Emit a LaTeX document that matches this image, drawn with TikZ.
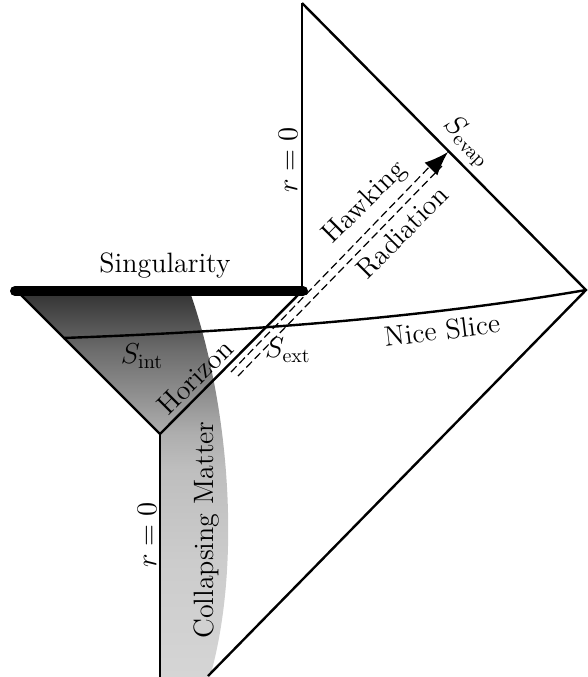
\documentclass[tikz,border=0pt]{standalone}
\usetikzlibrary{arrows.meta}
\definecolor{ctop}{HTML}{333333}
\definecolor{cupper}{HTML}{6C6C6C}
\definecolor{cmid}{HTML}{AEAEAE}
\definecolor{clow}{HTML}{BEBEBE}
\definecolor{clower}{HTML}{CCCCCC}
\definecolor{cbot}{HTML}{D5D5D5}
\pgfdeclareverticalshading{mattershade}{100bp}{color(0bp)=(cbot); color(25bp)=(cbot); color(40bp)=(clower); color(52bp)=(clow); color(56.6bp)=(cmid); color(67.5bp)=(cupper); color(75bp)=(ctop); color(100bp)=(ctop)}
\begin{document}
\begin{tikzpicture}[x=0.5pt,y=-0.5pt,
  lbl/.style={font=\fontsize{14}{16}\selectfont, inner sep=0pt},
  edge/.style={line width=1.2pt},
  dsh/.style={line width=0.6pt, dash pattern=on 4pt off 2pt}]
\useasboundingbox (0,0) rectangle (588,677);
% key points
\coordinate (T) at (302,3);
\coordinate (SR) at (302,291);
\coordinate (SL) at (18,292);
\coordinate (R) at (586,290);
\coordinate (BE) at (208,676);
\coordinate (V) at (160,434);
\coordinate (VB) at (160,677);
\coordinate (M0) at (190,292);
\coordinate (M1) at (210,677);
\coordinate (N0) at (63,338);
% shading
\shade[shading=mattershade] (SL) -- (M0) .. controls (228,400) and (243,560) .. (M1) -- (VB) -- (V) -- cycle;
% boundaries
\draw[edge] (T) -- (SR);
\draw[edge] (T) -- (R) -- (BE);
\draw[edge] (SL) -- (V) -- (SR);
\draw[edge] (V) -- (VB);
\draw[line width=5pt, line cap=round] (15,291) -- (303,291);
% nice slice
\draw[edge] (N0) .. controls (200,333) and (400,322) .. (R);
% hawking radiation
\coordinate (H0a) at (231,372);
\coordinate (H1a) at (436,160);
\coordinate (H0b) at (238,376);
\coordinate (H1b) at (442,166);
\coordinate (HA) at (433,167);
\coordinate (HT) at (448,152);
\draw[dsh] (H0a) -- (H1a);
\draw[dsh] (H0b) -- (H1b);
\draw[line width=0.6pt, -{Latex[length=12pt,width=9pt]}] (HA) -- (HT);
% labels
\node[lbl] (sing) at (165,266) {Singularity};
\node[lbl, rotate=90] (r0a) at (288,160) {$r=0$};
\node[lbl, rotate=90] (r0b) at (147,535) {$r=0$};
\node[lbl, rotate=90] (cm) at (207,530) {Collapsing Matter};
\node[lbl, rotate=45] (hor) at (195,377) {Horizon};
\node[lbl] (sint) at (142,356) {$S_{\mathrm{int}}$};
\node[lbl] (sext) at (288,350) {$S_{\mathrm{ext}}$};
\node[lbl, rotate=45] (hawk) at (365,203) {Hawking};
\node[lbl, rotate=45] (rad) at (402,232) {Radiation};
\node[lbl, rotate=-45] (sev) at (467,142) {$S_{\mathrm{evap}}$};
\node[lbl, rotate=7] (nice) at (442,330) {Nice Slice};
\end{tikzpicture}
\end{document}
